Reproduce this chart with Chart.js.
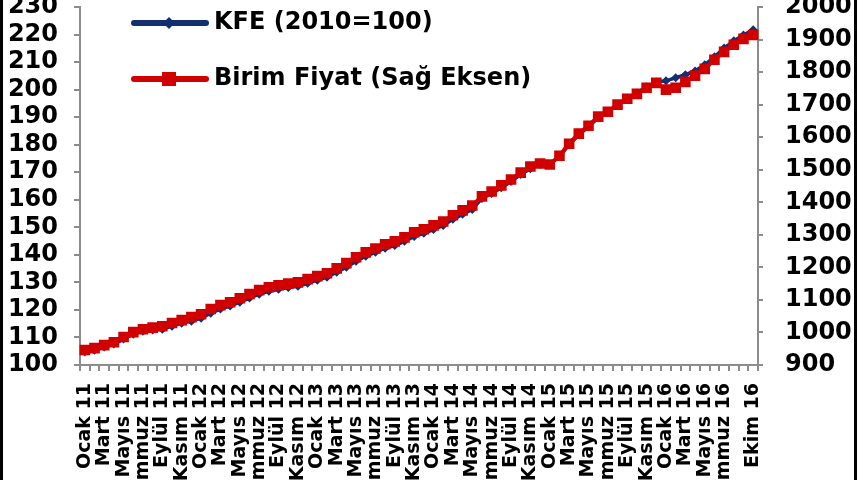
<!DOCTYPE html>
<html lang="tr">
<head>
<meta charset="utf-8">
<script src="https://cdn.jsdelivr.net/npm/chart.js@4.4.0/dist/chart.umd.min.js"></script>
<style>
  html, body { margin: 0; padding: 0; background: #fff; }
  #wrap { position: relative; width: 860px; height: 480px; overflow: hidden; }
  #wrap canvas { position: absolute; left: 0; top: -27px; }
  .edge { position: absolute; top: 0; bottom: 0; width: 3px; background: #000; }
</style>
</head>
<body>
<div id="wrap">
  <canvas id="chart" width="860" height="540" style="width:860px;height:540px"></canvas>
  <div class="edge" style="left:0"></div>
  <div class="edge" style="left:854px"></div>
</div>
<script>
// KFE vs birim fiyat, Ocak 2011 - Ekim 2016 (monthly)
const monthNames = ['Ocak','Şubat','Mart','Nisan','Mayıs','Haziran','Temmuz','Ağustos','Eylül','Ekim','Kasım','Aralık'];
const years = ['11','12','13','14','15','16'];

const categories = [];
years.forEach(y => monthNames.forEach(m => categories.push(m + ' ' + y)));
categories.length = 70; // ends at Ekim 16

const kfeLabel = 'KFE (2010=100)';
const fiyatLabel = 'Birim Fiyat (Sağ Eksen)';

const kfe = [
  104.7, 105.4, 106.5, 107.6, 109.4, 111.2, 112.3, 112.7, 113.0, 114.1, 115.2, 115.9,
  117.0, 118.8, 120.3, 121.4, 122.8, 124.3, 125.7, 126.8, 127.5, 128.1, 128.6, 129.7,
  130.8, 131.9, 133.7, 135.5, 137.7, 139.5, 140.9, 142.4, 143.4, 144.9, 146.7, 147.8,
  149.2, 150.7, 152.9, 154.7, 156.5, 160.5, 162.3, 164.4, 166.6, 169.2, 171.3, 172.8,
  172.8, 175.7, 180.0, 183.6, 186.5, 189.8, 192.0, 194.5, 197.0, 198.8, 201.0, 202.8,
  203.2, 204.3, 205.4, 206.8, 209.0, 211.9, 215.1, 217.7, 219.8, 221.7
];

const birimFiyat = [
  946, 952, 961, 970, 986, 1001, 1010, 1015, 1019, 1029, 1038, 1047,
  1056, 1072, 1084, 1093, 1105, 1118, 1130, 1139, 1145, 1150, 1154, 1164,
  1173, 1182, 1197, 1213, 1231, 1246, 1258, 1271, 1280, 1292, 1308, 1317,
  1329, 1341, 1360, 1375, 1390, 1418, 1433, 1452, 1470, 1491, 1510, 1519,
  1516, 1543, 1580, 1611, 1635, 1663, 1678, 1700, 1718, 1733, 1752, 1767,
  1746, 1752, 1770, 1789, 1810, 1838, 1862, 1884, 1902, 1914
];

const kfeColor = '#112f72';
const fiyatColor = '#d00000';
const axisColor = '#8c8c8c';
const FONT = '"DejaVu Sans", Verdana, sans-serif';

// which month labels are printed under the axis
function showLabel(i) {
  const last = categories.length - 1;
  if (i === last) return true;
  return i % 2 === 0 && i < last - 1;
}

// legend drawn inside the plot, top-left
const innerLegend = {
  id: 'innerLegend',
  afterDraw(chart) {
    const ctx = chart.ctx;
    const items = [
      { text: kfeLabel, color: kfeColor, marker: 'diamond', y: 50 },
      { text: fiyatLabel, color: fiyatColor, marker: 'square', y: 106 }
    ];
    ctx.save();
    items.forEach(it => {
      ctx.strokeStyle = it.color;
      ctx.fillStyle = it.color;
      ctx.lineWidth = 6;
      ctx.lineCap = 'round';
      ctx.beginPath();
      ctx.moveTo(134, it.y);
      ctx.lineTo(206, it.y);
      ctx.stroke();
      ctx.beginPath();
      if (it.marker === 'diamond') {
        ctx.moveTo(169, it.y - 6);
        ctx.lineTo(175, it.y);
        ctx.lineTo(169, it.y + 6);
        ctx.lineTo(163, it.y);
        ctx.closePath();
      } else {
        ctx.rect(162, it.y - 7, 14, 14);
      }
      ctx.fill();
      ctx.fillStyle = '#000';
      ctx.font = 'bold 24px ' + FONT;
      ctx.textAlign = 'left';
      ctx.textBaseline = 'middle';
      ctx.fillText(it.text, 214, it.y);
    });
    ctx.restore();
  }
};

const ctx = document.getElementById('chart').getContext('2d');
new Chart(ctx, {
  type: 'line',
  data: {
    labels: categories,
    datasets: [
      {
        label: fiyatLabel,
        data: birimFiyat,
        yAxisID: 'yR',
        order: 0,
        borderColor: fiyatColor,
        backgroundColor: fiyatColor,
        borderWidth: 4,
        pointStyle: 'rect',
        pointRadius: 7.5,
        pointBorderWidth: 0,
        tension: 0
      },
      {
        label: kfeLabel,
        data: kfe,
        yAxisID: 'yL',
        order: 1,
        borderColor: kfeColor,
        backgroundColor: kfeColor,
        borderWidth: 3.5,
        pointStyle: 'rectRot',
        pointRadius: 4.5,
        pointBorderWidth: 0,
        tension: 0
      }
    ]
  },
  options: {
    responsive: false,
    animation: false,
    layout: { padding: { top: 5, left: 0, right: 0, bottom: 0 } },
    plugins: { legend: { display: false }, tooltip: { enabled: false } },
    scales: {
      x: {
        offset: true,
        afterFit(scale) { scale.height = 148; },
        grid: { offset: true, drawOnChartArea: false, drawTicks: true, tickLength: 6, color: axisColor, lineWidth: 2 },
        border: { color: axisColor, width: 2 },
        ticks: {
          autoSkip: false,
          maxRotation: 90,
          minRotation: 90,
          padding: 12,
          color: '#000',
          font: { family: FONT, size: 19, weight: 'bold' },
          callback(v, i) { return showLabel(i) ? categories[i] : ''; }
        }
      },
      yL: {
        position: 'left',
        min: 100,
        max: 230,
        afterFit(scale) { scale.width = 80; },
        grid: { drawOnChartArea: false, tickLength: 6, color: axisColor, lineWidth: 2 },
        border: { color: axisColor, width: 2 },
        ticks: {
          stepSize: 10,
          padding: 16,
          color: '#000',
          font: { family: FONT, size: 24, weight: 'bold', lineHeight: 1 },
          callback(v) { return String(v); }
        }
      },
      yR: {
        position: 'right',
        min: 900,
        max: 2000,
        afterFit(scale) { scale.width = 102; },
        grid: { drawOnChartArea: false, tickLength: 5, color: axisColor, lineWidth: 2 },
        border: { color: axisColor, width: 2 },
        ticks: {
          stepSize: 100,
          padding: 22,
          color: '#000',
          font: { family: FONT, size: 24, weight: 'bold', lineHeight: 1 },
          callback(v) { return String(v); }
        }
      }
    }
  },
  plugins: [innerLegend]
});
</script>
</body>
</html>
